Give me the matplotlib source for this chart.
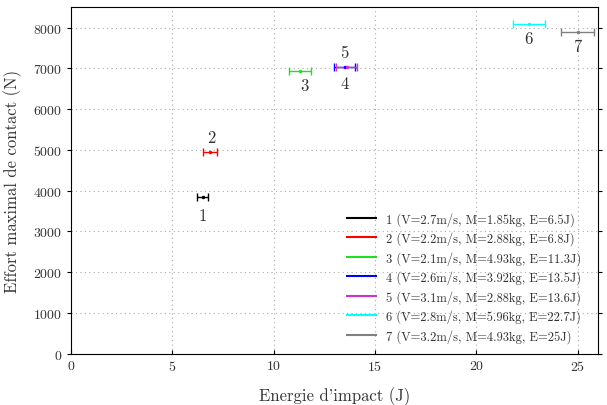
import numpy as np
import matplotlib as mpl
import matplotlib.pyplot as plt

mpl.rcParams['font.family'] = 'serif'
mpl.rcParams['font.serif'] = ['cmr10']
mpl.rcParams['mathtext.fontset'] = 'cm'
mpl.rcParams['axes.formatter.use_mathtext'] = True

# Impact tests
labels = ['1', '2', '3', '4', '5', '6', '7']
energy = [6.5, 6.85, 11.3, 13.5, 13.6, 22.6, 25.0]
energy_err = [0.27, 0.33, 0.55, 0.5, 0.52, 0.8, 0.8]
force = [3840, 4960, 6940, 7020, 7020, 8090, 7890]
legend_texts = [
    '1 (V=2.7m/s, M=1.85kg, E=6.5J)',
    '2 (V=2.2m/s, M=2.88kg, E=6.8J)',
    '3 (V=2.1m/s, M=4.93kg, E=11.3J)',
    '4 (V=2.6m/s, M=3.92kg, E=13.5J)',
    '5 (V=3.1m/s, M=2.88kg, E=13.6J)',
    '6 (V=2.8m/s, M=5.96kg, E=22.7J)',
    '7 (V=3.2m/s, M=4.93kg, E=25J)',
]
colors = ['black', 'red', '#22dd22', 'blue', '#cc33cc', 'cyan', 'grey']
# where the test number is written
label_pos = [(6.5, 3400), (6.9, 5300), (11.5, 6590), (13.5, 6640),
             (13.5, 7400), (22.6, 7740), (25.0, 7530)]

fig = plt.figure(figsize=(6.07, 4.06), dpi=100)
ax = fig.add_axes([0.117, 0.126, 0.868, 0.854])

handles = []
for i in range(len(labels)):
    ax.errorbar(energy[i], force[i], xerr=energy_err[i], fmt='.', color=colors[i],
                markersize=3, capsize=3, elinewidth=1, capthick=1)
    h, = ax.plot([], [], color=colors[i], linewidth=1.5, label=legend_texts[i])
    handles.append(h)
    ax.text(label_pos[i][0], label_pos[i][1], labels[i], ha='center', va='center',
            fontsize=12, color='#333333')

ax.set_xlim(0, 26)
ax.set_ylim(0, 8500)
ax.set_xticks([0, 5, 10, 15, 20, 25])
ax.set_yticks(np.arange(0, 8001, 1000))
ax.grid(True, linestyle=(0, (1, 3)), color='#aaaaaa', linewidth=0.8)
ax.tick_params(axis='x', direction='in', length=3, labelsize=10, labelcolor='#333333')
ax.tick_params(axis='y', direction='out', length=3, right=True, labelsize=10,
               labelcolor='#333333')
ax.set_xlabel("Energie d'impact (J)", fontsize=12, labelpad=10, color='#333333')
ax.set_ylabel('Effort maximal de contact (N)', fontsize=12, labelpad=8, color='#333333')

leg = ax.legend(handles=handles, loc='lower right', frameon=False, fontsize=9,
                handlelength=2.3, labelspacing=0.45, bbox_to_anchor=(0.99, 0.0))
for t in leg.get_texts():
    t.set_color('#333333')

fig.savefig('out.png', dpi=100)
